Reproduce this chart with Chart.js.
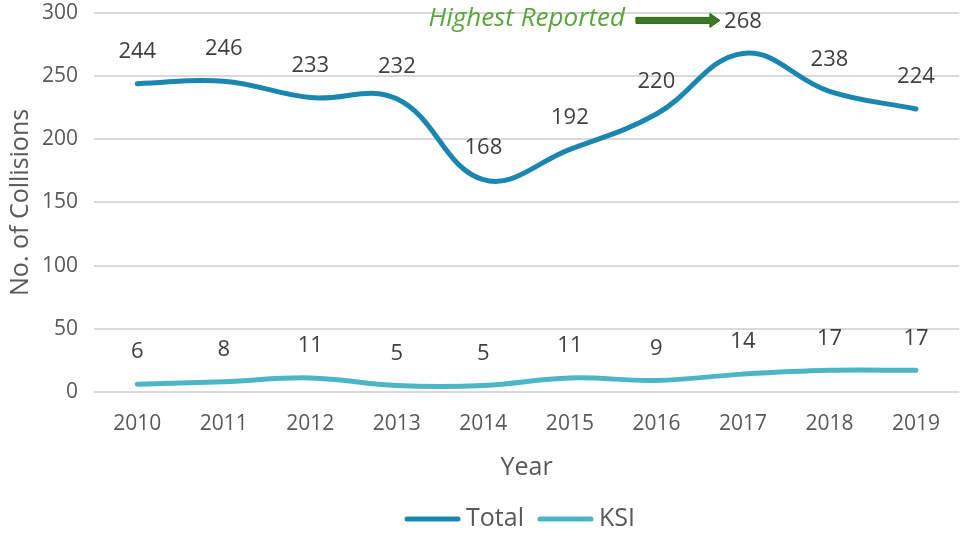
<!DOCTYPE html>
<html>
<head>
<meta charset="utf-8">
<script src="https://cdn.jsdelivr.net/npm/chart.js@4.4.0/dist/chart.umd.min.js"></script>
<style>
  html, body { margin: 0; padding: 0; background: #fff; }
  #wrap { width: 960px; height: 533px; }
</style>
</head>
<body>
<div id="wrap"><canvas id="chart"></canvas></div>
<script>
const years = ['2010', '2011', '2012', '2013', '2014', '2015', '2016', '2017', '2018', '2019'];
const totalValues = [244, 246, 233, 232, 168, 192, 220, 268, 238, 224];
const ksiValues = [6, 8, 11, 5, 5, 11, 9, 14, 17, 17];
const yTicks = [0, 50, 100, 150, 200, 250, 300];
const noteText = 'Highest Reported';
const noteIndex = 7;

const fontFamily = "'Open Sans', 'Noto Sans', sans-serif";
const textColor = '#595959';

// value labels above each point
const pointLabels = {
    id: 'pointLabels',
    afterDatasetsDraw(chart) {
        const ctx = chart.ctx;
        ctx.save();
        ctx.font = '22px ' + fontFamily;
        ctx.fillStyle = '#404040';
        ctx.textAlign = 'center';
        ctx.textBaseline = 'middle';
        chart.data.datasets.forEach((ds, i) => {
            chart.getDatasetMeta(i).data.forEach((pt, j) => {
                ctx.fillText(ds.data[j], pt.x, pt.y - 32);
            });
        });
        ctx.restore();
    }
};

// "Highest Reported" note with arrow
const note = {
    id: 'note',
    afterDatasetsDraw(chart) {
        const ctx = chart.ctx;
        const pt = chart.getDatasetMeta(0).data[noteIndex];
        const y = pt.y - 33;
        const x1 = pt.x - 23;
        const x0 = pt.x - 107;
        ctx.save();
        ctx.fillStyle = '#3a7a22';
        ctx.strokeStyle = '#2e6419';
        ctx.lineWidth = 1;
        ctx.beginPath();
        ctx.moveTo(x0, y - 3);
        ctx.lineTo(x1 - 10, y - 3);
        ctx.lineTo(x1 - 10, y - 7);
        ctx.lineTo(x1, y);
        ctx.lineTo(x1 - 10, y + 7);
        ctx.lineTo(x1 - 10, y + 3);
        ctx.lineTo(x0, y + 3);
        ctx.closePath();
        ctx.fill();
        ctx.stroke();
        ctx.font = 'italic 26px ' + fontFamily;
        ctx.fillStyle = '#5ba43c';
        ctx.textAlign = 'right';
        ctx.textBaseline = 'middle';
        ctx.fillText(noteText, x0 - 11, y - 2);
        ctx.restore();
    }
};

// legend row under the axis title: short line sample then the name
const lineLegend = {
    id: 'lineLegend',
    afterDraw(chart) {
        const ctx = chart.ctx;
        const sample = 55, gap = 6, between = 14, y = 519;
        ctx.save();
        ctx.font = '25px ' + fontFamily;
        const items = chart.data.datasets.map(ds => ({
            label: ds.label, color: ds.borderColor, w: ctx.measureText(ds.label).width
        }));
        const total = items.reduce((s, it) => s + sample + gap + it.w, 0) + between * (items.length - 1);
        let x = 520 - total / 2;
        items.forEach(it => {
            ctx.strokeStyle = it.color;
            ctx.lineWidth = 5;
            ctx.lineCap = 'round';
            ctx.beginPath();
            ctx.moveTo(x + 2, y);
            ctx.lineTo(x + sample - 2, y);
            ctx.stroke();
            ctx.fillStyle = textColor;
            ctx.textBaseline = 'middle';
            ctx.fillText(it.label, x + sample + gap, y);
            x += sample + gap + it.w + between;
        });
        ctx.restore();
    }
};

new Chart(document.getElementById('chart'), {
    type: 'line',
    data: {
        labels: years,
        datasets: [
            {
                label: 'Total',
                data: totalValues,
                borderColor: '#1b87b0',
                backgroundColor: '#1b87b0',
                borderWidth: 5,
                tension: 0.4,
                pointRadius: 0,
                borderCapStyle: 'round'
            },
            {
                label: 'KSI',
                data: ksiValues,
                borderColor: '#4bb6c5',
                backgroundColor: '#4bb6c5',
                borderWidth: 5,
                tension: 0.4,
                pointRadius: 0,
                borderCapStyle: 'round'
            }
        ]
    },
    options: {
        responsive: true,
        maintainAspectRatio: false,
        animation: false,
        layout: { padding: { top: 13, right: 0, left: 2, bottom: 0 } },
        scales: {
            x: {
                offset: true,
                grid: { display: false, drawTicks: false },
                border: { display: false },
                ticks: { color: textColor, font: { family: fontFamily, size: 21 }, padding: 20 },
                title: { display: true, text: 'Year', color: textColor, font: { family: fontFamily, size: 25 }, padding: { top: -4, bottom: 50 } }
            },
            y: {
                min: 0,
                max: 300,
                afterBuildTicks(axis) { axis.ticks = yTicks.map(v => ({ value: v })); },
                afterFit(axis) { axis.width = 92; axis.paddingTop = 0; },
                grid: { color: '#d9d9d9', lineWidth: 2, drawTicks: false },
                border: { display: false },
                ticks: { color: textColor, font: { family: fontFamily, size: 21 }, padding: 16 },
                title: { display: true, text: 'No. of Collisions', color: textColor, font: { family: fontFamily, size: 25 }, padding: { bottom: 0 } }
            }
        },
        plugins: {
            legend: { display: false },
            tooltip: { enabled: false }
        }
    },
    plugins: [pointLabels, note, lineLegend]
});
</script>
</body>
</html>
